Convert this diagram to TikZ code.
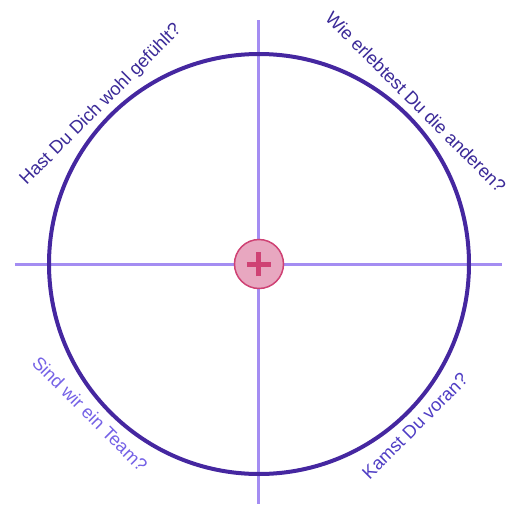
\documentclass[tikz,border=0pt]{standalone}
\usepackage{fontspec}
\setmainfont{Liberation Sans}
\definecolor{ringcol}{HTML}{4527A0}
\definecolor{axiscol}{HTML}{A48DF2}
\definecolor{dotfill}{HTML}{E8A7C0}
\definecolor{dotline}{HTML}{CF4274}
\definecolor{qdark}{HTML}{3B2A98}
\definecolor{qmid}{HTML}{4F3DC4}
\definecolor{qlight}{HTML}{7562E6}
\begin{document}
\begin{tikzpicture}[x=1pt, y=1pt,
    question/.style={font=\fontsize{18.2}{20}\selectfont, inner sep=0pt}]
    \useasboundingbox (-259,-240) rectangle (258,264);

    % axes
    \coordinate (top) at (0,244);
    \coordinate (bottom) at (0,-240);
    \coordinate (left) at (-244,0);
    \coordinate (right) at (243,0);
    \draw[line width=3pt, axiscol] (top) -- (bottom);
    \draw[line width=3pt, axiscol] (left) -- (right);

    % ring
    \draw[line width=4pt, ringcol] (0,0) circle (210);

    % centre dot
    \node[circle, draw=dotline, fill=dotfill, line width=1.5pt,
          minimum size=49pt, inner sep=0pt] (plus) at (0,0) {};
    \draw[line width=5pt, dotline] ([xshift=-12pt]plus.center) -- ([xshift=12pt]plus.center);
    \draw[line width=5pt, dotline] ([yshift=-12pt]plus.center) -- ([yshift=12pt]plus.center);

    % questions
    \node[question, qdark, rotate=45] (wohl) at (-158,159) {Hast Du Dich wohl gefühlt?};
    \node[question, qdark, rotate=-45] (andere) at (157,162) {Wie erlebtest Du die anderen?};
    \node[question, qlight, rotate=-45] (team) at (-169,-150) {Sind wir ein Team?};
    \node[question, qmid, rotate=45] (voran) at (156,-162) {Kamst Du voran?};
\end{tikzpicture}
\end{document}
